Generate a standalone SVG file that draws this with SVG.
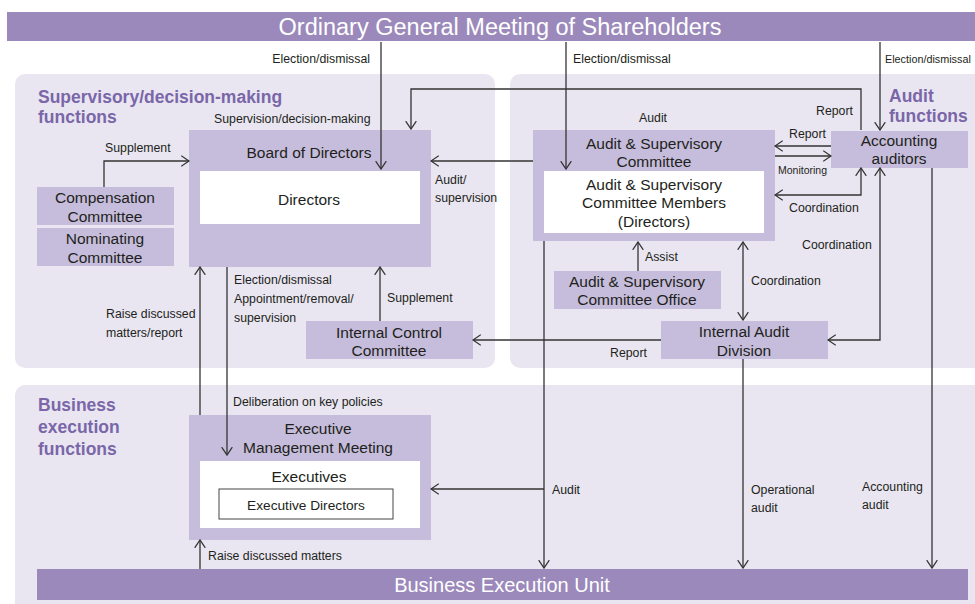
<svg xmlns="http://www.w3.org/2000/svg" width="975" height="604" viewBox="0 0 975 604">
<defs>
<style>
.panel{fill:#e9e6f1}
.node{fill:#c5bddb}
.inner{fill:#ffffff}
.bar{fill:#9b89bb}
.bt{font-family:"Liberation Sans",Arial,sans-serif;fill:#ffffff;text-anchor:middle}
.nt{font-family:"Liberation Sans",Arial,sans-serif;font-size:15.5px;fill:#231f20;text-anchor:middle}
.lb{font-family:"Liberation Sans",Arial,sans-serif;font-size:12.3px;fill:#231f20}
.ttl{font-family:"Liberation Sans",Arial,sans-serif;font-size:17.5px;font-weight:bold;fill:#7a66a8}
.cn{fill:none;stroke:#333333;stroke-width:1.3}
</style>
<marker id="ah" markerUnits="userSpaceOnUse" markerWidth="9" markerHeight="12" viewBox="0 0 9 12" refX="8.3" refY="6" orient="auto-start-reverse">
<path d="M0.5,0.7 L8.3,6 L0.5,11.3" fill="none" stroke="#333333" stroke-width="1.3"/>
</marker>
</defs>

<g id="panels">
<rect class="panel" x="15" y="74" width="480" height="294" rx="10"/>
<rect class="panel" x="510" y="74" width="480" height="294" rx="10"/>
<rect class="panel" x="15" y="385" width="975" height="230" rx="10"/>
<text class="ttl" x="38" y="103">Supervisory/decision-making</text>
<text class="ttl" x="38" y="123">functions</text>
<text class="ttl" x="889" y="102">Audit</text>
<text class="ttl" x="889" y="122">functions</text>
<text class="ttl" x="38" y="411">Business</text>
<text class="ttl" x="38" y="433">execution</text>
<text class="ttl" x="38" y="455">functions</text>
</g>

<g id="shareholders">
<rect class="bar" x="7" y="12" width="968" height="29"/>
<text class="bt" x="500" y="35" style="font-size:23.5px">Ordinary General Meeting of Shareholders</text>
</g>

<g id="board">
<rect class="node" x="189" y="130" width="242" height="137"/>
<text class="nt" x="309" y="158">Board of Directors</text>
<rect class="inner" x="200" y="171" width="220" height="53"/>
<text class="nt" x="309" y="205">Directors</text>
</g>

<g id="compensation">
<rect class="node" x="37" y="187" width="137" height="38"/>
<text class="nt" x="105" y="203">Compensation</text>
<text class="nt" x="105" y="222">Committee</text>
</g>

<g id="nominating">
<rect class="node" x="37" y="228" width="137" height="38"/>
<text class="nt" x="105" y="244">Nominating</text>
<text class="nt" x="105" y="263">Committee</text>
</g>

<g id="icc">
<rect class="node" x="306" y="321" width="167" height="38"/>
<text class="nt" x="389" y="338">Internal Control</text>
<text class="nt" x="389" y="356">Committee</text>
</g>

<g id="asc">
<rect class="node" x="533" y="130" width="242" height="111"/>
<text class="nt" x="654" y="149">Audit &amp; Supervisory</text>
<text class="nt" x="654" y="167">Committee</text>
<rect class="inner" x="544" y="171" width="220" height="62"/>
<text class="nt" x="654" y="190">Audit &amp; Supervisory</text>
<text class="nt" x="654" y="208">Committee Members</text>
<text class="nt" x="654" y="227">(Directors)</text>
</g>

<g id="asc-office">
<rect class="node" x="554" y="271" width="167" height="38"/>
<text class="nt" x="637" y="287">Audit &amp; Supervisory</text>
<text class="nt" x="637" y="305">Committee Office</text>
</g>

<g id="iad">
<rect class="node" x="661" y="321" width="167" height="38"/>
<text class="nt" x="744" y="337">Internal Audit</text>
<text class="nt" x="744" y="356">Division</text>
</g>

<g id="accounting">
<rect class="node" x="831" y="131" width="137" height="37"/>
<text class="nt" x="899" y="146">Accounting</text>
<text class="nt" x="899" y="164">auditors</text>
</g>

<g id="exec">
<rect class="node" x="189" y="415" width="242" height="125"/>
<text class="nt" x="318" y="434">Executive</text>
<text class="nt" x="318" y="453">Management Meeting</text>
<rect class="inner" x="200" y="461" width="220" height="67"/>
<text class="nt" x="309" y="482">Executives</text>
<rect x="219" y="489" width="174" height="30" fill="#ffffff" stroke="#444444" stroke-width="1"/>
<text class="nt" x="306" y="510" style="font-size:13.7px">Executive Directors</text>
</g>

<g id="beu">
<rect class="bar" x="37" y="569" width="931" height="31"/>
<text class="bt" x="502" y="592" style="font-size:20px">Business Execution Unit</text>
</g>

<g id="connectors">
<path class="cn" d="M381,42 V169" marker-end="url(#ah)"/>
<path class="cn" d="M566,42 V169" marker-end="url(#ah)"/>
<path class="cn" d="M880,42 V130" marker-end="url(#ah)"/>
<path class="cn" d="M861,130 V89 H411 V129" marker-end="url(#ah)"/>
<path class="cn" d="M104,187 V161 H189" marker-end="url(#ah)"/>
<path class="cn" d="M533,161 H431" marker-end="url(#ah)"/>
<path class="cn" d="M200,415 V267" marker-end="url(#ah)"/>
<path class="cn" d="M227,267 V455" marker-end="url(#ah)"/>
<path class="cn" d="M380,321 V267" marker-end="url(#ah)"/>
<path class="cn" d="M661,340 H473" marker-end="url(#ah)"/>
<path class="cn" d="M831,146 H775" marker-end="url(#ah)"/>
<path class="cn" d="M775,156 H831" marker-end="url(#ah)"/>
<path class="cn" d="M775,195 H861 V168" marker-start="url(#ah)" marker-end="url(#ah)"/>
<path class="cn" d="M880,168 V340 H828" marker-start="url(#ah)" marker-end="url(#ah)"/>
<path class="cn" d="M638,271 V242" marker-end="url(#ah)"/>
<path class="cn" d="M743,242 V320" marker-start="url(#ah)" marker-end="url(#ah)"/>
<path class="cn" d="M544,241 V568" marker-end="url(#ah)"/>
<path class="cn" d="M544,489 H431" marker-end="url(#ah)"/>
<path class="cn" d="M743,359 V568" marker-end="url(#ah)"/>
<path class="cn" d="M932,168 V568" marker-end="url(#ah)"/>
<path class="cn" d="M200,569 V540" marker-end="url(#ah)"/>

<text class="lb" x="370" y="63" text-anchor="end">Election/dismissal</text>
<text class="lb" x="573" y="63">Election/dismissal</text>
<text class="lb" x="885" y="63" style="font-size:10.8px">Election/dismissal</text>
<text class="lb" x="214" y="123">Supervision/decision-making</text>
<text class="lb" x="639" y="122">Audit</text>
<text class="lb" x="816" y="115">Report</text>
<text class="lb" x="789" y="138">Report</text>
<text class="lb" x="778" y="174" style="font-size:10.5px">Monitoring</text>
<text class="lb" x="789" y="212">Coordination</text>
<text class="lb" x="802" y="249">Coordination</text>
<text class="lb" x="751" y="285">Coordination</text>
<text class="lb" x="645" y="261">Assist</text>
<text class="lb" x="610" y="357">Report</text>
<text class="lb" x="435" y="184">Audit/</text>
<text class="lb" x="435" y="202">supervision</text>
<text class="lb" x="105" y="152">Supplement</text>
<text class="lb" x="106" y="318">Raise discussed</text>
<text class="lb" x="106" y="337">matters/report</text>
<text class="lb" x="234" y="284">Election/dismissal</text>
<text class="lb" x="234" y="303">Appointment/removal/</text>
<text class="lb" x="234" y="322">supervision</text>
<text class="lb" x="387" y="302">Supplement</text>
<text class="lb" x="233" y="406">Deliberation on key policies</text>
<text class="lb" x="208" y="560">Raise discussed matters</text>
<text class="lb" x="552" y="494">Audit</text>
<text class="lb" x="751" y="494">Operational</text>
<text class="lb" x="751" y="512">audit</text>
<text class="lb" x="862" y="491">Accounting</text>
<text class="lb" x="862" y="509">audit</text>
</g>
</svg>
